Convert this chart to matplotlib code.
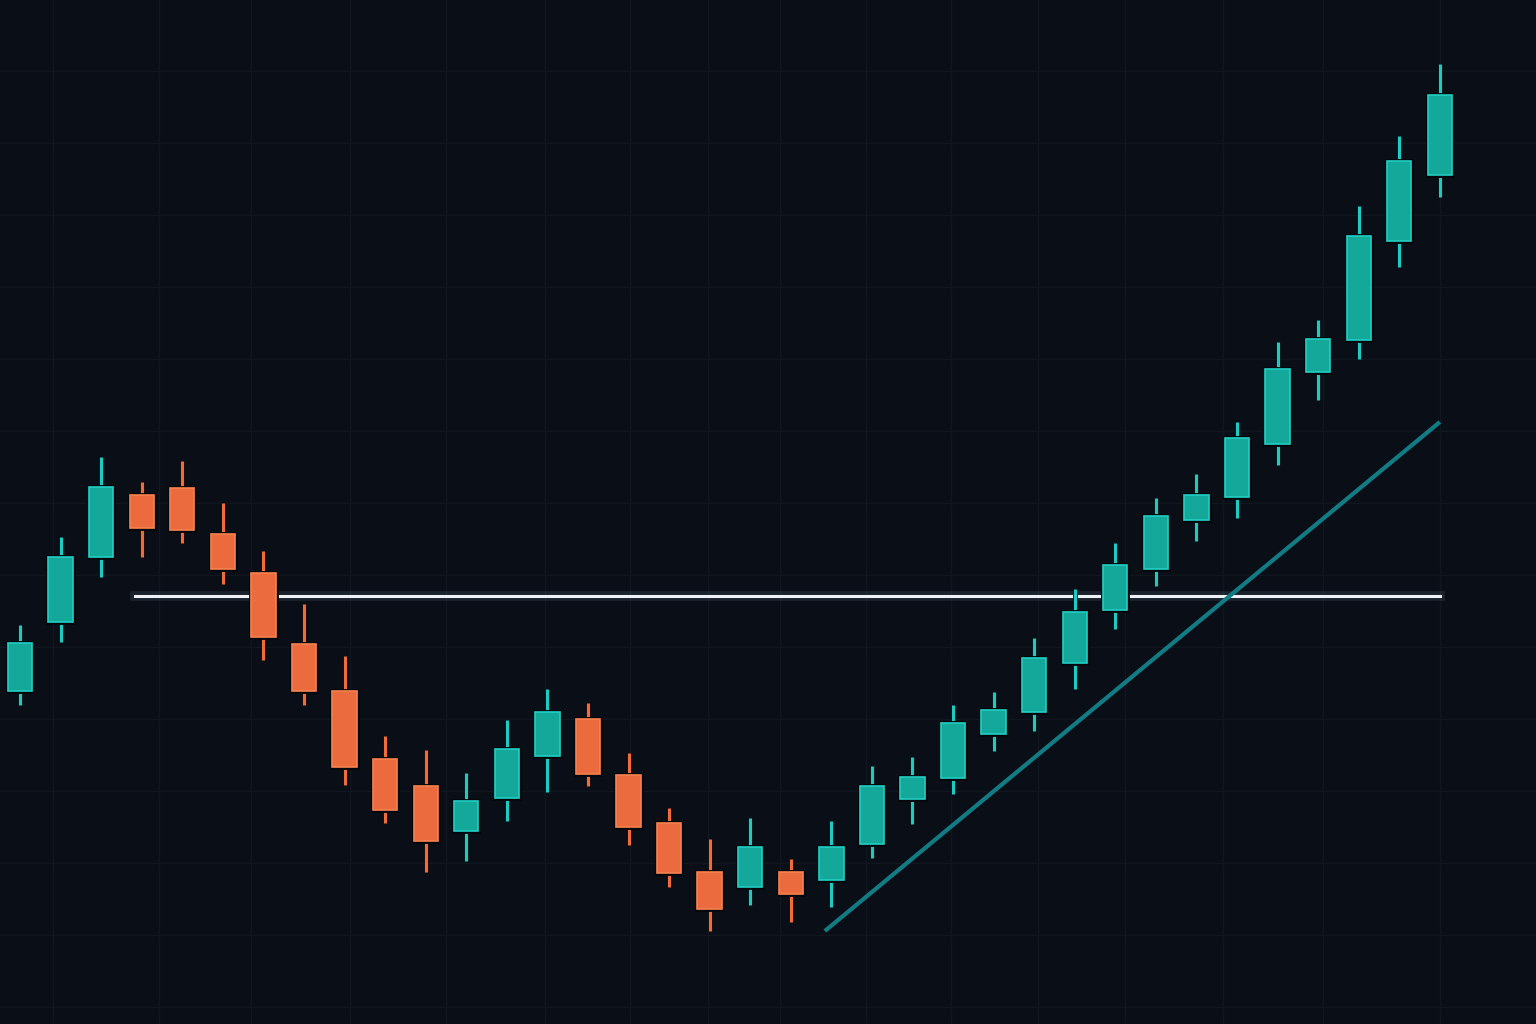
import numpy as np
import matplotlib
matplotlib.use("Agg")
import matplotlib.pyplot as plt
import matplotlib.patheffects as pe

# Datos de las velas (precio en unidades arbitrarias)
opens  = [33.3, 40.2, 46.7, 52.9, 53.6, 49.0, 45.1, 38.0, 33.3, 26.5, 23.8, 19.3,
          22.6, 26.8, 30.5, 24.9, 20.1, 15.2, 13.7, 15.2, 14.4, 18.0, 22.5, 24.6,
          29.0, 31.2, 36.1, 41.4, 45.5, 50.4, 52.7, 58.0, 65.2, 68.4, 78.3, 84.9]
highs  = [39.9, 48.7, 56.7, 54.2, 56.3, 52.1, 47.3, 42.0, 36.8, 28.8, 27.4, 25.1,
          30.4, 33.5, 32.1, 27.1, 21.6, 18.5, 20.6, 16.5, 20.3, 25.8, 26.7, 31.9,
          33.2, 38.6, 43.5, 48.1, 52.6, 55.0, 60.2, 68.2, 70.4, 81.8, 88.8, 96.0]
lows   = [31.9, 38.2, 44.7, 46.7, 48.1, 44.0, 36.4, 31.9, 23.9, 20.1, 15.2, 16.3,
          20.3, 23.2, 23.8, 17.9, 13.7, 9.3, 11.9, 10.2, 11.7, 16.6, 20.0, 23.0,
          27.3, 29.3, 33.5, 39.5, 43.8, 48.3, 50.6, 55.9, 62.4, 66.5, 75.7, 82.7]
closes = [38.1, 46.7, 53.7, 49.6, 49.4, 45.5, 38.7, 33.3, 25.7, 21.4, 18.3, 22.3,
          27.5, 31.2, 25.0, 19.7, 15.1, 11.5, 17.7, 13.0, 17.7, 23.8, 24.7, 30.1,
          31.4, 36.6, 41.2, 45.9, 50.8, 52.9, 58.6, 65.5, 68.5, 78.8, 86.3, 92.9]

# Linea de resistencia (horizontal) y linea de tendencia
nivel = 42.8
nivel_x = [2.83, 35.0]
tend_x = [19.84, 35.0]
tend_y = [9.3, 60.2]

# Colores
fondo = '#0a0e17'
grilla = '#10171f'
verde, verde_borde, verde_mecha = '#14a89b', '#22cfc3', '#1ccbc2'
rojo, rojo_borde, rojo_mecha = '#ec6b3e', '#f5824f', '#f06c3b'

fig = plt.figure(figsize=(15.36, 10.24), dpi=100)
fig.patch.set_facecolor(fondo)
ax = fig.add_axes([0, 0, 1, 1])
ax.set_facecolor(fondo)

n = len(opens)
x = np.arange(n)
o = np.array(opens)
c = np.array(closes)
h = np.array(highs)
l = np.array(lows)
sube = c >= o

sombra = [pe.Stroke(linewidth=3.5, foreground='#04070b'), pe.Normal()]

# Mechas
for i in range(n):
    col = verde_mecha if sube[i] else rojo_mecha
    ax.plot([x[i], x[i]], [l[i], h[i]], color=col, lw=2.3, zorder=2,
            solid_capstyle='butt', path_effects=sombra)

# Cuerpos
base = np.minimum(o, c)
alto = np.abs(c - o)
caras = [verde if s else rojo for s in sube]
bordes = [verde_borde if s else rojo_borde for s in sube]
barras = ax.bar(x, alto, bottom=base, width=0.6, color=caras, edgecolor=bordes,
                linewidth=1.2, zorder=3)
for b in barras:
    b.set_path_effects(sombra)

# Linea horizontal con brillo
ax.plot(nivel_x, [nivel, nivel], color='#8fb4d6', lw=7, alpha=0.12, zorder=1.5)
ax.plot(nivel_x, [nivel, nivel], color='#eef2f6', lw=2.2, zorder=1.6)

# Linea de tendencia
ax.plot(tend_x, tend_y, color='#127c84', lw=3, zorder=4, solid_capstyle='butt')

# Limites: ejes ocupan toda la figura
ax.set_xlim(-0.493, 37.37)
ax.set_ylim(0, 102.4)

# Grilla tenue
ax.set_xticks([0.81, 3.43, 5.69, 8.13, 10.5, 12.94, 15.04, 16.96, 18.73, 20.85,
               22.95, 25.09, 27.24, 29.65, 32.11, 35.0])
ax.set_yticks(np.arange(1.7, 102, 7.2))
ax.grid(True, color=grilla, lw=1.0, zorder=0)
ax.set_axisbelow(True)
ax.tick_params(length=0, labelbottom=False, labelleft=False)
for s in ax.spines.values():
    s.set_visible(False)

plt.savefig('out.png', dpi=100, facecolor=fondo)
